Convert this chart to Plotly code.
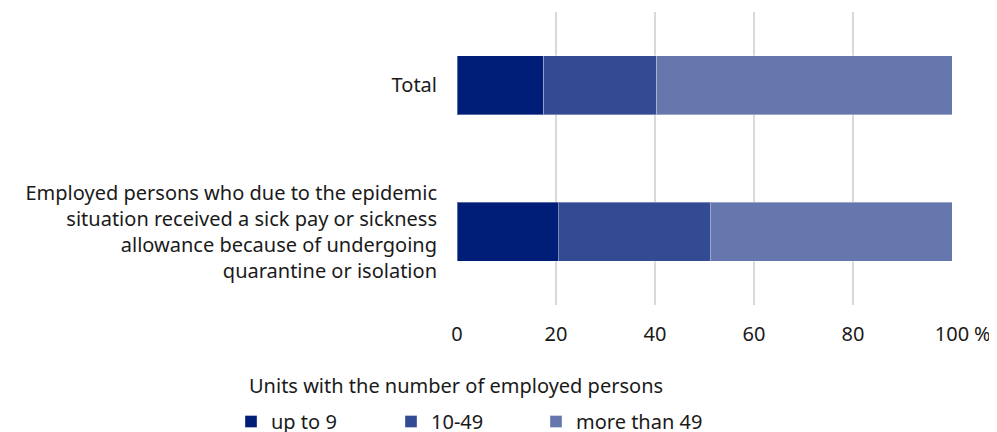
import plotly.graph_objects as go

categories = ["Total",
              "Employed persons who due to the epidemic<br>situation received a sick pay or sickness<br>allowance because of undergoing<br>quarantine or isolation"]
series_names = ["up to 9", "10-49", "more than 49"]
up_to_9 = [17.5, 20.5]
from_10_49 = [22.9, 30.7]
more_than_49 = [59.6, 48.8]
colors = ["#001e78", "#334b93", "#6677ad"]
x_ticks = [0, 20, 40, 60, 80, 100]

FONT = "Noto Sans"
FS = 20
OFF = 8  # page body margin
W, H = 997 - OFF, 432 - OFF
PL, PR, PT, PB = 457 - OFF, 952 - OFF, 12 - OFF, 305 - OFF


def px_x(px):
    return (px - OFF - PL) / (PR - PL)


def px_y(py):
    return (PB - (py - OFF)) / (PB - PT)


legend_x_screen = [231, 391, 536]
legend_ids = ["legend", "legend2", "legend3"]

fig = go.Figure()
for name, vals, col, lid in zip(series_names, [up_to_9, from_10_49, more_than_49], colors, legend_ids):
    fig.add_trace(go.Bar(y=categories, x=vals, name=name, orientation="h",
                         marker=dict(color=col, line=dict(color="rgba(255,255,255,0.35)", width=1)),
                         width=0.4, legend=lid))

legend_top = 394
legends = {}
for lid, lx in zip(legend_ids, legend_x_screen):
    legends[lid] = dict(orientation="h", xref="container", yref="container",
                        x=(lx - OFF) / W, y=1 - legend_top / H, xanchor="left", yanchor="top",
                        font=dict(size=FS), itemclick=False, bgcolor="rgba(0,0,0,0)")

fig.update_layout(
    barmode="stack",
    width=W, height=H,
    margin=dict(l=PL, r=W - PR, t=PT, b=H - PB, autoexpand=False),
    plot_bgcolor="white", paper_bgcolor="white",
    font=dict(family=FONT, size=FS, color="#1a1a1a"),
    xaxis=dict(range=[0, 100], tickvals=x_ticks, showgrid=True, gridcolor="#d9d9d9", gridwidth=2,
               zeroline=False, showline=False, ticklabelstandoff=15, automargin=False,
               tickfont=dict(size=FS)),
    yaxis=dict(categoryorder="array", categoryarray=categories, autorange="reversed",
               showgrid=False, zeroline=False, showline=False, ticklabelstandoff=19,
               automargin=False, tickfont=dict(size=FS)),
    showlegend=True,
    **legends,
)
fig.add_annotation(text="%", xref="paper", yref="paper", x=px_x(982), y=px_y(333),
                   xanchor="center", yanchor="middle",
                   showarrow=False, font=dict(size=FS))
fig.add_annotation(text="Units with the number of employed persons", xref="paper", yref="paper",
                   x=px_x(247), y=px_y(385), xanchor="left", yanchor="middle",
                   showarrow=False, font=dict(size=FS))
fig.write_html("out.html")
